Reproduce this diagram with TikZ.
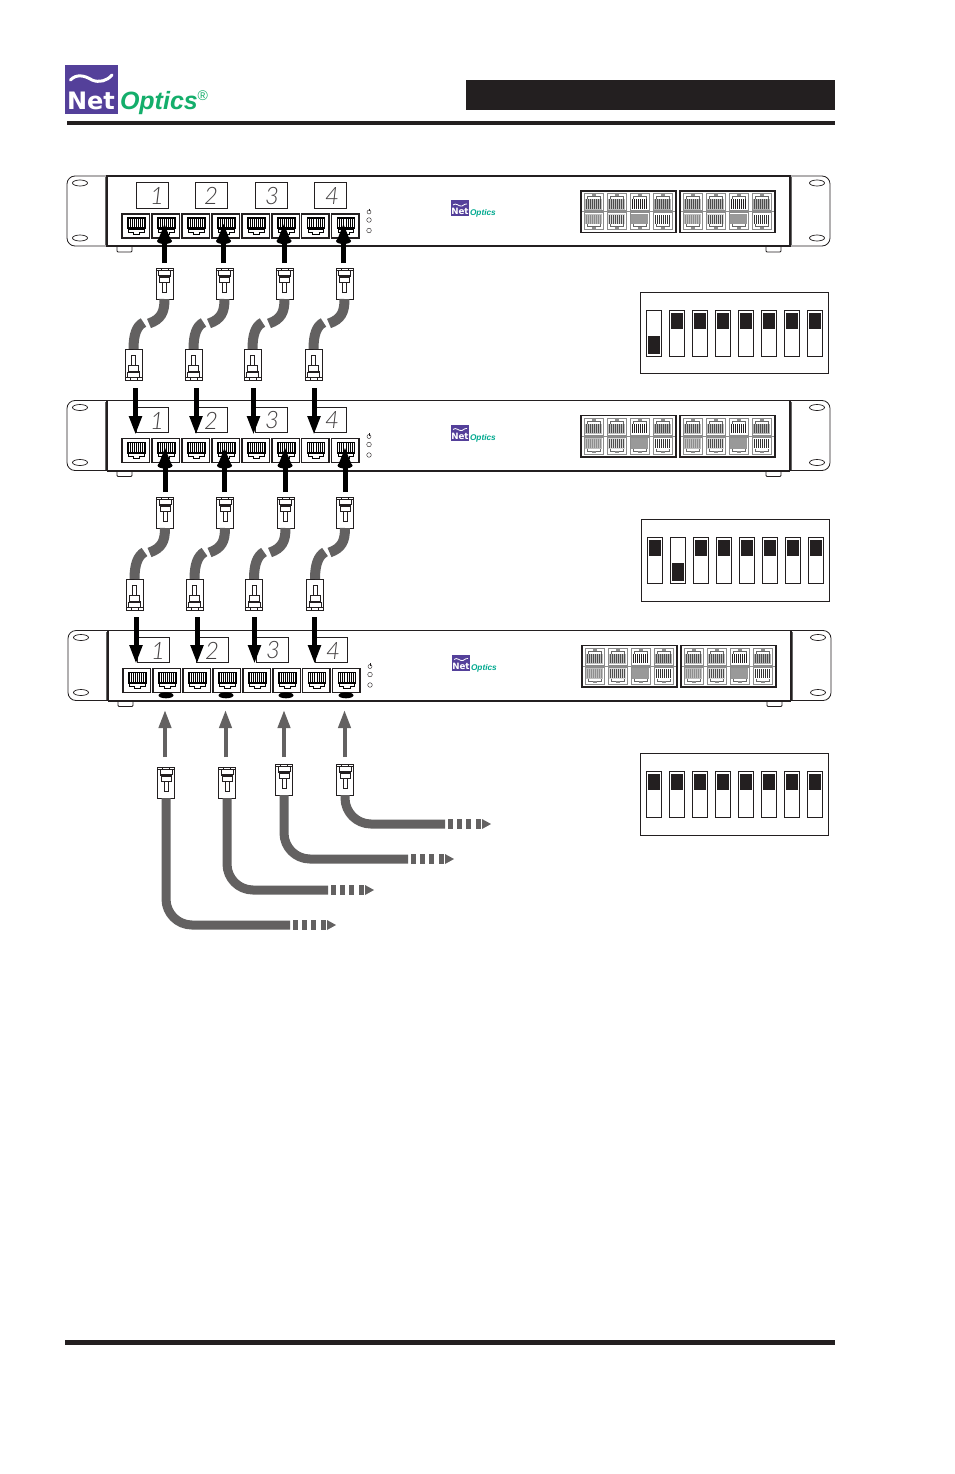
\documentclass[tikz,border=0pt]{standalone}
\usepackage{fontspec}
\setmainfont{Liberation Sans}
\newfontfamily\digitfont{Lato Light}[ItalicFont={Lato Light Italic}]
\newfontfamily\heavyfont{DejaVu Sans}
\usetikzlibrary{arrows.meta}
\definecolor{ink}{HTML}{231F20}
\definecolor{purp}{HTML}{54409A}
\definecolor{green1}{HTML}{14AE6B}
\definecolor{teal1}{HTML}{00A98F}
\definecolor{cablec}{HTML}{636161}
\tikzset{
 every node/.style={inner sep=0pt,outer sep=0pt},
 box/.style={draw=ink,fill=white,line width=1pt,rectangle},
 panelbox/.style={draw=ink,fill=white,line width=1.1pt,rectangle},
 uparrow/.style={-{Triangle[length=18pt,width=12pt]},line width=5pt,draw=black},
 downarrow/.style={-{Triangle[length=19pt,width=12pt]},line width=5pt,draw=black},
 greyarrow/.style={-{Triangle[length=18pt,width=12pt]},line width=4pt,draw=cablec},
 cable/.style={draw=cablec,line width=9pt},
 cablethin/.style={draw=cablec,line width=10pt},
 digit/.style={text=ink!85,font=\digitfont\itshape\fontsize{24}{24}\selectfont},
}
% port: top-left at x,y
\newcommand\port[2]{%
\begin{scope}[shift={(#1,#2)}]
 \draw[box,line width=1.1pt] (0,0) rectangle (27.5,24);
 \fill[black] (5,3) rectangle (23.5,15);
 \foreach \s in {0,...,7}{\fill[white] (6.6+\s*2.1,4.5) rectangle (7.7+\s*2.1,13);}
 \filldraw[fill=white,draw=black,line width=.7pt] (6.5,15)--(6.5,18)--(11,18)--(11,20)--(17.5,20)--(17.5,18)--(22,18)--(22,15)--cycle;
\end{scope}}
% small grey port: cell 19x17, #3 = 1 normal, -1 flipped; #4 fill, #5 stripe colour
\newcommand\gport[5]{%
\begin{scope}[shift={(#1,#2)},yscale=#3]
 \draw[draw=black!45,line width=.6pt,fill=white] (-9.5,-8.5) rectangle (9.5,8.5);
 \fill[#4] (-8.5,-7.5) rectangle (8.5,3);
 \foreach \s in {0,...,7}{\fill[#5] (-7.4+\s*2,-6.5) rectangle (-6.6+\s*2,2.5);}
 \draw[black!60,line width=.5pt] (-6.5,3)--(-6.5,5.5)--(6.5,5.5)--(6.5,3);
 \fill[black!45] (-2,5.5) rectangle (2,7.5);
\end{scope}}
% plug centred at x,y; #4 = 1 tab on top, -1 tab below
\newcommand\plug[4]{%
\node[box,minimum width=17pt,minimum height=31pt] (#1) at (#2,#3) {};
\begin{scope}[shift={(#2,#3)},yscale=#4,line width=.8pt]
 \draw[ink,fill=white] (-3.5,-15.5) rectangle (3.5,-9);
 \draw[ink] (-8.5,-13)--(8.5,-13);
 \draw[ink,fill=white] (-6,-13) rectangle (6,-8);
 \fill[ink] (-6,-8) rectangle (6,-6.5);
 \draw[ink,fill=white] (-5,-6.5) rectangle (5,-1);
 \draw[ink,fill=white] (-2,-1) rectangle (2,9);
\end{scope}}
\newcommand\rack[3]{%
\begin{scope}[shift={(#2,#3)}]
 % feet
 \draw[ink,line width=.8pt,fill=white,rounded corners=1pt] (117,246)--(117,252)--(132,252)--(132,246);
 \draw[ink,line width=.8pt,fill=white,rounded corners=1pt] (766,246)--(766,252)--(781,252)--(781,246);
 % ears
 \draw[ink,line width=.8pt,fill=white,rounded corners=8pt] (107,176)--(67,176)--(67,246)--(107,246);
 \draw[ink,line width=.8pt,fill=white,rounded corners=8pt] (790,176)--(830,176)--(830,246)--(790,246);
 \draw[black!60,line width=1.2pt] (106,177)--(106,245);
 \draw[black!60,line width=1.2pt] (791,177)--(791,245);
 \foreach \ox/\oy in {80/183,80/238,817/183,817/238}{\draw[ink,line width=.7pt] (\ox,\oy) ellipse (7.5 and 3);}
 % body
 \node[panelbox,minimum width=683pt,minimum height=70pt] (#1body) at (448.5,211) {};
 \draw[ink,line width=2pt] (107,246)--(790,246);
 % displays
 \foreach \bx/\tx/\d in {152/157/1,211/211/2,271.5/272/3,330.5/332/4}{
  \node[box,minimum width=32pt,minimum height=25pt] (#1d\d) at (\bx,195.5) {};
  \node[digit] (#1n\d) at (\tx,196) {\d};
 }
 % ports
 \foreach \px in {122,152,182,212,242,272,301.5,331.5}{\port{\px}{214}}
 % LEDs
 \draw[ink,line width=.4pt] (369,220) circle (2.3);
 \draw[ink,line width=.4pt] (369,230.5) circle (2.3);
 \draw[ink,line width=.4pt] (369,212) circle (2);
 \draw[ink,line width=.5pt] (369,208.5)--(369,211);
 % small logo
 \fill[purp] (451,200) rectangle (469,216);
 \draw[white,line width=.8pt] (453,205) .. controls (456,202) and (459,207) .. (462,206) .. controls (464,205) and (466,203) .. (467,204);
 \node[anchor=base west,text=white,font=\heavyfont\bfseries\fontsize{8.7}{10}\selectfont] (#1net) at (451.3,214.5) {Net};
 \node[anchor=base west,text=teal1,font=\bfseries\itshape\fontsize{8.3}{9}\selectfont] (#1opt) at (470,215.5) {Optics};
 % right ports
 \foreach \gx in {581,680}{
  \draw[ink,line width=1.2pt,fill=white] (\gx,191) rectangle (\gx+95,232.5);
  \gport{\gx+12.5}{202}{-1}{black!25}{black!70}
  \gport{\gx+35.5}{202}{-1}{black!25}{black!70}
  \gport{\gx+58.5}{202}{-1}{white}{ink}
  \gport{\gx+81.5}{202}{-1}{black!30}{black!70}
  \gport{\gx+12.5}{221}{1}{black!25}{black!45}
  \gport{\gx+35.5}{221}{1}{black!15}{black!70}
  \gport{\gx+58.5}{221}{1}{black!40}{black!40}
  \gport{\gx+81.5}{221}{1}{white}{black!80}
  \draw[black!45,line width=1pt] (\gx+1,211.5)--(\gx+94,211.5);
 }
\end{scope}}
% DIP block: name, x, y, w, h, switch y, index of down switch
\newcommand\dip[7]{%
 \node[box,anchor=north west,minimum width=#4pt,minimum height=#5pt] (#1) at (#2,#3) {};
 \foreach \i in {0,...,7}{
  \draw[ink,line width=.9pt,fill=white] ({#2+6.5+\i*23},#6) rectangle ({#2+21.5+\i*23},#6+46);
  \ifnum\i=#7\relax
   \fill[ink] ({#2+8+\i*23},#6+26) rectangle ({#2+20+\i*23},#6+44);
  \else
   \fill[ink] ({#2+8+\i*23},#6+3) rectangle ({#2+20+\i*23},#6+19);
  \fi
 }}
\begin{document}
\begin{tikzpicture}[x=1pt,y=-1pt]
\useasboundingbox (0,0) rectangle (954,1474);
\fill[white] (0,0) rectangle (954,1474);
% header
\fill[purp] (65,65) rectangle (118,114);
\draw[white,line width=3pt,line cap=round] (70.5,80) .. controls (76,74) and (84,75) .. (92,80) .. controls (99,83) and (107,81) .. (112,75);
\node[anchor=base west,text=white,font=\heavyfont\bfseries\fontsize{24}{24}\selectfont] (lognet) at (67,110) {Net};
\node[anchor=base west,text=green1,font=\bfseries\itshape\fontsize{25}{25}\selectfont] (logopt) at (120,110) {Optics};
\node[anchor=base west,text=green1,font=\fontsize{14}{14}\selectfont] (logreg) at (197.5,101) {®};
\fill[ink] (67,121) rectangle (835,125);
\fill[ink] (466,80) rectangle (835,110);
\fill[ink] (65,1340) rectangle (835,1345);
% racks
\rack{ra}{0}{0}
\rack{rb}{0}{224.5}
\rack{rc}{1}{454.5}
% DIPs
\dip{dipa}{640}{292}{188}{81}{310}{0}
\dip{dipb}{641}{519}{188}{82}{537}{1}
\dip{dipc}{640}{753}{188}{82}{771}{9}
% plugs and curved cables, rack a-b and rack b-c
\foreach \ux/\lx/\n in {164.5/133.5/1,224.5/193.5/2,284.5/252.5/3,344.5/313.5/4}{
 \plug{ua\n}{\ux}{283.5}{1}
 \plug{la\n}{\lx}{364.5}{-1}
 \coordinate (ga\n) at (\ux-15.5,323.5);
 \coordinate (ha\n) at (\lx+10,322.5);
 \draw[cable,line width=10pt] (ua\n.south) .. controls (\ux,312) and (\ux-3,319) .. (ga\n);
 \draw[cablethin] (la\n.north) .. controls (\lx,335) and (\lx+3,326) .. (ha\n);
}
\foreach \ux/\lx/\n in {165/134.5/1,225/194.5/2,285.5/254/3,345/315/4}{
 \plug{ub\n}{\ux}{512.5}{1}
 \plug{lb\n}{\lx}{594.5}{-1}
 \coordinate (gb\n) at (\ux-15.5,552.5);
 \coordinate (hb\n) at (\lx+10,552);
 \draw[cable,line width=10pt] (ub\n.south) .. controls (\ux,541) and (\ux-3,548) .. (gb\n);
 \draw[cablethin] (lb\n.north) .. controls (\lx,565) and (\lx+3,556) .. (hb\n);
}
% plugs with long cables
\foreach \x/\y/\ey/\ex/\n in {166/782.5/925/290/1,227/782.5/890/328/2,284/779.5/859/408/3,345/779.5/824/445/4}{
 \plug{uc\n}{\x}{\y}{1}
 \coordinate (ec\n) at (\ex,\ey);
 \draw[cable,rounded corners=26pt] (uc\n.south) |- (ec\n);
 \foreach \o in {3,12,21,31}{\fill[cablec] (\ex+\o,\ey-4.7) rectangle (\ex+\o+4.5,\ey+4.7);}
 \fill[cablec] (\ex+37,\ey-5) -- (\ex+46,\ey) -- (\ex+37,\ey+5) -- cycle;
}
% up arrows with collars
\foreach \x/\n in {164.5/1,223.5/2,284/3,343.5/4}{
 \coordinate (sa\n) at (\x,263);
 \coordinate (ta\n) at (\x,223);
 \draw[uparrow] (sa\n) -- (ta\n);
 \fill[black] (\x,241) ellipse (7.5 and 3);
}
\foreach \x/\n in {165/1,224.5/2,285/3,345/4}{
 \coordinate (sb\n) at (\x,492);
 \coordinate (tb\n) at (\x,447);
 \draw[uparrow] (sb\n) -- (tb\n);
 \fill[black] (\x,465.5) ellipse (7.5 and 3);
}
\foreach \x/\n in {166/1,226/2,286/3,346/4}{\fill[black] (\x,695.3) ellipse (7.5 and 3);}
% down arrows
\foreach \x/\n in {135.5/1,196/2,253.5/3,314/4}{
 \coordinate (da\n) at (\x,388);
 \coordinate (ea\n) at (\x,435);
 \draw[downarrow] (da\n) -- (ea\n);
}
\foreach \x/\n in {136/1,197/2,254.5/3,314.5/4}{
 \coordinate (db\n) at (\x,617);
 \coordinate (eb\n) at (\x,664);
 \draw[downarrow] (db\n) -- (eb\n);
}
% grey arrows
\foreach \x/\n in {165/1,225.5/2,284/3,344.5/4}{
 \coordinate (sg\n) at (\x,757);
 \coordinate (tg\n) at (\x,710);
 \draw[greyarrow] (sg\n) -- (tg\n);
}
\end{tikzpicture}
\end{document}
